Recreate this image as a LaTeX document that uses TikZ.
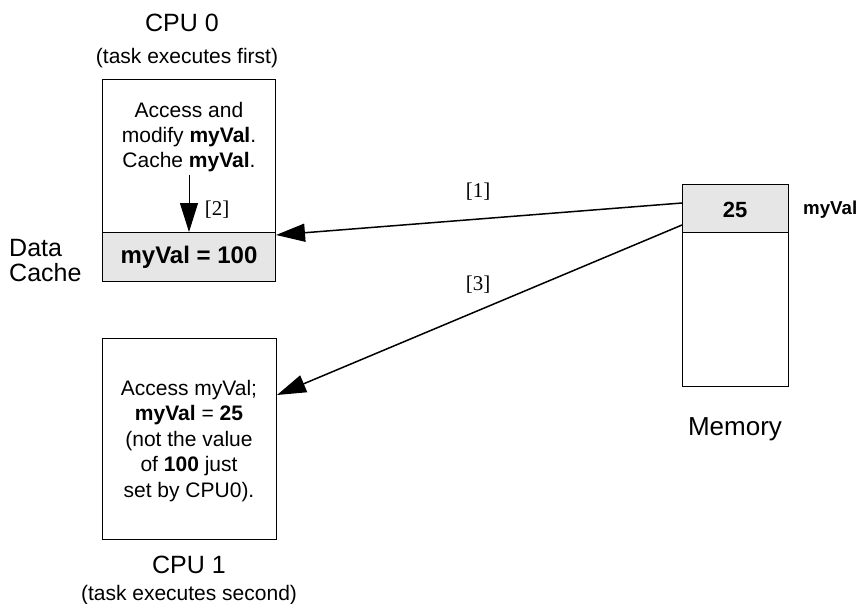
\documentclass[tikz,border=0pt]{standalone}
\usepackage{fontspec}
\setmainfont{Liberation Sans}
\newfontfamily\serifft{Liberation Serif}
\usetikzlibrary{arrows.meta,calc}
\definecolor{cellgray}{HTML}{E6E6E6}
\tikzset{
  box/.style={draw, line width=1pt, inner sep=0pt, anchor=north west},
  cell/.style={box, fill=cellgray},
  txt/.style={font=\fontsize{21}{25}\selectfont, align=center, inner sep=0pt},
  big/.style={font=\fontsize{26}{25}\selectfont, align=center, inner sep=0pt},
  tag/.style={font=\serifft\fontsize{21}{25}\selectfont, inner sep=0pt},
  arr/.style={line width=1.5pt, -{Triangle[length=29pt,width=18pt]}},
}
\begin{document}
\begin{tikzpicture}[x=1pt,y=-1pt]
\useasboundingbox (0,0) rectangle (864,604);
% CPU 0
\node[box, minimum width=173pt, minimum height=153pt] (cpu0) at (102,79) {};
\node[cell, minimum width=173pt, minimum height=49pt] (cache) at (102,232) {};
\node[txt] (cachetxt) at (189,257) {\fontsize{24}{26}\selectfont\bfseries myVal = 100};
\node[txt] (cpu0txt) at (189,137.5) {Access and\\modify \textbf{myVal}.\\Cache \textbf{myVal}.};
\node[txt, font=\fontsize{25}{28}\selectfont, anchor=base] (cpu0title) at (182,32) {CPU 0};
\node[txt, anchor=base] (cpu0sub) at (187,64) {(task executes first)};
\node[big, font=\fontsize{25}{25}\selectfont, align=left, anchor=base west] (dc) at (9,281) {Data\\Cache};
\coordinate (a2s) at (189,175);
\draw[arr, line width=1pt] (a2s) -- (cache.north -| a2s);
\node[tag] (t2) at (217,210) {[2]};
% Memory
\node[cell, minimum width=106pt, minimum height=48pt] (m25) at (682,184) {};
\node[box, minimum width=106pt, minimum height=154pt] (mem) at (682,232) {};
\node[txt, font=\fontsize{22}{25}\selectfont\bfseries] (v25) at (735,210) {25};
\node[txt, font=\fontsize{18.7}{22}\selectfont\bfseries, anchor=west] (mvl) at (803,210) {myVal};
\node[big, anchor=base] (memlbl) at (735,435) {Memory};
% CPU 1
\node[box, minimum width=174pt, minimum height=201pt] (cpu1) at (102,338) {};
\node[txt, font=\fontsize{21}{25.5}\selectfont] (cpu1txt) at (189,441) {Access myVal;\\\textbf{myVal} = \textbf{25}\\(not the value\\of \textbf{100} just\\set by CPU0).};
\node[txt, font=\fontsize{25}{28}\selectfont, anchor=base] (cpu1title) at (189,573) {CPU 1};
\node[txt, anchor=base] (cpu1sub) at (189,600) {(task executes second)};
% arrows
\draw[arr] ($(m25.north west)+(0,19)$) -- ($(cache.north east)+(0,3)$);
\draw[arr] ($(m25.north west)+(0,41)$) -- ($(cpu1.north east)+(0,57)$);
\node[tag] (t1) at (478,192) {[1]};
\node[tag] (t3) at (478,285) {[3]};
\end{tikzpicture}
\end{document}
